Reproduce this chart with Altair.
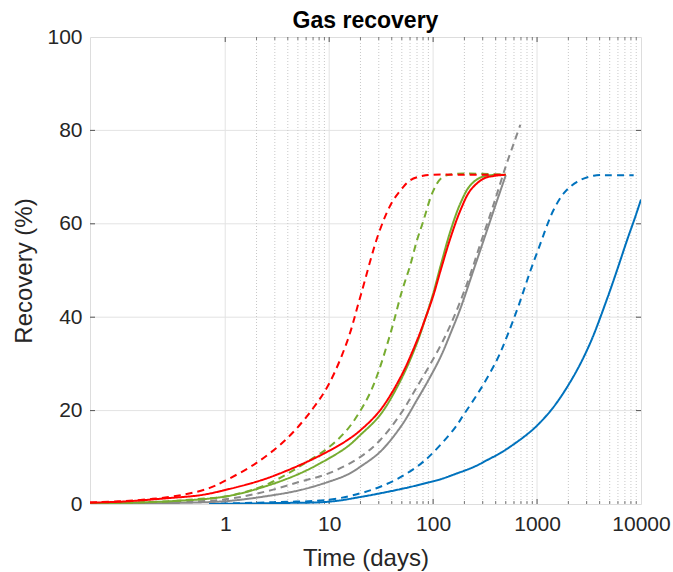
import altair as alt
import pandas as pd

# ---------------- data ----------------
red_solid_t = [0.05, 0.1, 0.3, 0.58, 1, 2.37, 5.3, 10, 15, 20, 31, 49, 70, 85, 100, 118, 147, 184, 229, 308, 400, 500]
red_solid_v = [0.3, 0.5, 1.3, 1.9, 3.0, 5.3, 8.4, 11.4, 13.7, 15.8, 20.1, 27.3, 35.0, 40.0, 44.5, 50.0, 57.0, 63.0, 67.2, 69.7, 70.3, 70.5]

red_dash_t = [0.05, 0.1, 0.2, 0.4, 0.7, 1, 2, 4, 7, 10, 15, 20, 30, 40, 50, 60, 80, 100, 200, 500]
red_dash_v = [0.3, 0.6, 1.1, 2.0, 3.4, 5.0, 8.8, 14.2, 20.5, 25.8, 35.0, 44.5, 58.0, 64.5, 67.5, 69.3, 70.3, 70.5, 70.5, 70.5]

green_solid_t = [0.05, 0.3, 1, 2.37, 5.3, 10, 15, 20, 31, 49, 70, 85, 100, 118, 147, 184, 229, 300, 500]
green_solid_v = [0.1, 0.6, 1.6, 3.7, 6.6, 9.8, 12.3, 14.8, 19.1, 26.6, 34.5, 40.0, 45.0, 51.0, 58.5, 64.5, 68.3, 70.1, 70.5]

green_dash_t = [0.05, 0.1, 0.3, 0.5, 1, 2, 3, 5, 10, 15, 20, 25, 30, 40, 50, 60, 70, 80, 100, 120, 150, 500]
green_dash_v = [0.1, 0.2, 0.6, 1.0, 1.6, 3.3, 5.0, 7.8, 12.2, 16.0, 20.0, 24.0, 28.5, 37.5, 45.5, 51.0, 56.5, 60.4, 67.0, 69.8, 70.6, 70.5]

gray_solid_t = [0.05, 0.3, 1, 2.37, 5.3, 10, 15, 20, 31, 49, 70, 90, 118, 150, 184, 245, 331, 414, 500]
gray_solid_v = [0.05, 0.2, 0.6, 1.6, 3.0, 4.8, 6.3, 8.0, 11.2, 16.6, 22.3, 26.5, 31.5, 37.0, 42.0, 50.1, 58.7, 65.1, 70.4]

gray_dash_t = [0.05, 0.3, 1, 2.37, 5.3, 10, 20, 31, 49, 70, 114, 150, 213, 286, 385, 498, 597, 690]
gray_dash_v = [0.1, 0.4, 1.0, 2.6, 4.8, 6.6, 10.1, 13.7, 19.4, 25.1, 33.3, 38.8, 47.3, 55.8, 64.4, 72.2, 77.2, 81.2]

blue_solid_t = [0.7, 1, 3, 10, 20, 49, 76, 118, 158, 250, 331, 450, 597, 800, 1000, 1445, 2239, 3236, 4677, 5888, 7345, 8810, 10000]
blue_solid_v = [0.02, 0.05, 0.2, 0.5, 1.5, 3.2, 4.2, 5.3, 6.3, 8.0, 9.4, 11.0, 12.8, 14.9, 16.8, 20.8, 27.3, 34.4, 43.7, 50.1, 56.5, 61.5, 65.2]

blue_dash_t = [0.7, 1, 3, 10, 20, 31, 49, 76, 100, 158, 198, 286, 414, 516, 667, 865, 1079, 1250, 1445, 1803, 2427, 3508, 5000, 8500]
blue_dash_v = [0.05, 0.1, 0.4, 0.9, 2.3, 3.7, 5.8, 8.6, 11.0, 16.0, 19.2, 24.6, 31.0, 36.0, 42.6, 50.0, 55.8, 59.7, 63.0, 66.5, 69.0, 70.3, 70.4, 70.4]

x_tick_values = [1, 10, 100, 1000, 10000]
y_tick_values = [0, 20, 40, 60, 80, 100]
minor_x = [m * 10 ** k for k in range(0, 4) for m in range(2, 10)]
major_x = [1, 10, 100, 1000]

series = [
    ("blue", "solid", blue_solid_t, blue_solid_v),
    ("blue", "dash", blue_dash_t, blue_dash_v),
    ("gray", "solid", gray_solid_t, gray_solid_v),
    ("gray", "dash", gray_dash_t, gray_dash_v),
    ("green", "solid", green_solid_t, green_solid_v),
    ("green", "dash", green_dash_t, green_dash_v),
    ("red", "solid", red_solid_t, red_solid_v),
    ("red", "dash", red_dash_t, red_dash_v),
]
rows = []
for order, (c, s, ts, vs) in enumerate(series):
    for t, v in zip(ts, vs):
        rows.append({"series": f"{c}-{s}", "color": c, "style": s, "t": t, "v": v, "order": order})
df = pd.DataFrame(rows)

W, H = 551, 467
FONT = "Liberation Sans"
TXT = "#262626"

xscale = alt.Scale(type="log", domain=[0.05, 10000], nice=False)
yscale = alt.Scale(domain=[0, 100], nice=False)

minor_df = pd.DataFrame({"t": minor_x})
major_df = pd.DataFrame({"t": major_x})
ytick_df = pd.DataFrame({"v": [20, 40, 60, 80]})

minor_grid = alt.Chart(minor_df).mark_rule(color="#c8c8c8", strokeDash=[1, 2], strokeWidth=1).encode(
    x=alt.X("t:Q", scale=xscale)
)

axes_base = alt.Chart(major_df).mark_rule(color="#e3e3e3", strokeWidth=1).encode(
    x=alt.X("t:Q", scale=xscale,
            axis=alt.Axis(values=x_tick_values, format="d", grid=False, ticks=False, tickSize=0,
                          domain=False, labelFontSize=21, labelPadding=9, labelColor=TXT,
                          labelFont=FONT, title="Time (days)", titleFont=FONT, titleFontSize=24,
                          titleFontWeight="normal", titleColor=TXT, titlePadding=12,
                          labelFlush=False)),
    y=alt.value(0), y2=alt.value(H)
)

ygrid = alt.Chart(ytick_df).mark_rule(color="#e3e3e3", strokeWidth=1).encode(
    y=alt.Y("v:Q", scale=yscale,
            axis=alt.Axis(values=y_tick_values, grid=False, ticks=False, tickSize=0, domain=False,
                          labelFontSize=21, labelPadding=8, labelColor=TXT, labelFont=FONT,
                          title="Recovery (%)", titleFont=FONT, titleFontSize=24,
                          titleFontWeight="normal", titleColor=TXT, titlePadding=10)),
    x=alt.value(0), x2=alt.value(W)
)

# inside ticks
xt_bot = alt.Chart(major_df).mark_rule(color="#555555").encode(
    x=alt.X("t:Q", scale=xscale), y=alt.value(H), y2=alt.value(H - 5))
xt_top = alt.Chart(major_df).mark_rule(color="#555555").encode(
    x=alt.X("t:Q", scale=xscale), y=alt.value(0), y2=alt.value(5))
xm_bot = alt.Chart(minor_df).mark_rule(color="#777777").encode(
    x=alt.X("t:Q", scale=xscale), y=alt.value(H), y2=alt.value(H - 3))
xm_top = alt.Chart(minor_df).mark_rule(color="#777777").encode(
    x=alt.X("t:Q", scale=xscale), y=alt.value(0), y2=alt.value(3))
yt_l = alt.Chart(ytick_df).mark_rule(color="#555555").encode(
    y=alt.Y("v:Q", scale=yscale), x=alt.value(0), x2=alt.value(5))
yt_r = alt.Chart(ytick_df).mark_rule(color="#555555").encode(
    y=alt.Y("v:Q", scale=yscale), x=alt.value(W), x2=alt.value(W - 5))

lines = alt.Chart(df).mark_line(strokeWidth=2, interpolate="catmull-rom", clip=True).encode(
    x=alt.X("t:Q", scale=xscale),
    y=alt.Y("v:Q", scale=yscale),
    color=alt.Color("color:N", scale=alt.Scale(domain=["blue", "gray", "green", "red"],
                                               range=["#0072BD", "#8a8a8a", "#77AC30", "#FF0000"]),
                    legend=None),
    strokeDash=alt.StrokeDash("style:N", scale=alt.Scale(domain=["solid", "dash"],
                                                         range=[[1, 0], [7, 5]]), legend=None),
    detail="series:N",
    order="order:Q",
)

chart = alt.layer(axes_base, ygrid, minor_grid, xm_bot, xm_top, xt_bot, xt_top, yt_l, yt_r, lines).properties(
    width=W, height=H,
    title=alt.TitleParams("Gas recovery", fontSize=23, fontWeight="bold", font=FONT, color="#000000",
                          anchor="middle", offset=-7),
    autosize=alt.AutoSizeParams(type="none"),
    padding={"left": 90, "top": 37, "right": 32, "bottom": 68},
).configure_view(stroke="#7a7a7a", strokeWidth=1.2).configure(background="white")

chart.save("out.html", embed_options={"renderer": "svg", "actions": False})
